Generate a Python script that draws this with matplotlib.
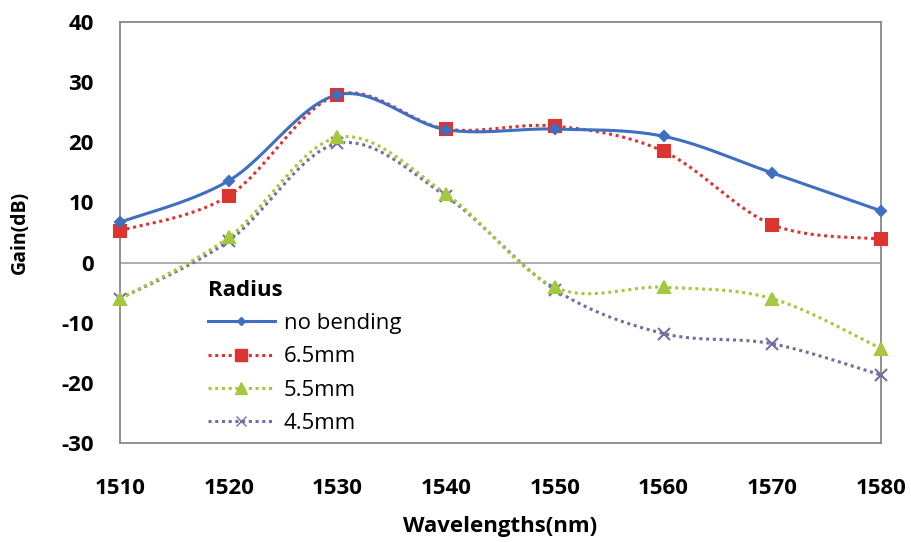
import numpy as np
import matplotlib
matplotlib.use("Agg")
import matplotlib.pyplot as plt
from matplotlib.lines import Line2D

plt.rcParams['font.family'] = ['Open Sans', 'DejaVu Sans']
plt.rcParams['axes.unicode_minus'] = False

wavelengths = [1510, 1520, 1530, 1540, 1550, 1560, 1570, 1580]
no_bending = [6.7, 13.6, 27.9, 22.1, 22.2, 21.0, 14.9, 8.6]
r_6_5mm = [5.3, 11.1, 27.9, 22.2, 22.7, 18.5, 6.3, 3.9]
r_5_5mm = [-6.0, 4.2, 20.8, 11.4, -4.1, -4.1, -6.0, -14.3]
r_4_5mm = [-6.0, 3.6, 19.8, 11.0, -4.5, -11.8, -13.5, -18.7]
labels = ["no bending", "6.5mm", "5.5mm", "4.5mm"]


def smooth(x, y, n=30):
    # excel-like bezier smoothing through the points
    x = np.asarray(x, float)
    y = np.asarray(y, float)
    px = np.concatenate([[x[0]], x, [x[-1]]])
    py = np.concatenate([[y[0]], y, [y[-1]]])
    xs, ys = [], []
    t = np.linspace(0, 1, n)
    for i in range(1, len(x)):
        p0 = np.array([px[i], py[i]])
        p3 = np.array([px[i + 1], py[i + 1]])
        c1 = p0 + (p3 - np.array([px[i - 1], py[i - 1]])) / 6
        c2 = p3 - (np.array([px[i + 2], py[i + 2]]) - p0) / 6
        pts = ((1 - t) ** 3)[:, None] * p0 + (3 * (1 - t) ** 2 * t)[:, None] * c1 \
            + (3 * (1 - t) * t ** 2)[:, None] * c2 + (t ** 3)[:, None] * p3
        xs.extend(pts[:, 0])
        ys.extend(pts[:, 1])
    return xs, ys


fig = plt.figure(figsize=(9.12, 5.42), dpi=100)
ax = fig.add_axes([120 / 912, 1 - 443 / 542, 761 / 912, 421 / 542])

styles = [
    dict(color="#3E6FC0", ls="-", lw=2.2, marker="D", ms=5),
    dict(color="#DC3430", ls=(0, (1, 1.2)), lw=2.2, marker="s", ms=9),
    dict(color="#A6C840", ls=(0, (1, 1.2)), lw=2.2, marker="^", ms=9),
    dict(color="#7070A0", ls=(0, (1, 1.2)), lw=2.2, marker="x", ms=8),
]
series = [no_bending, r_6_5mm, r_5_5mm, r_4_5mm]

handles = []
for vals, st in zip(series[::-1], styles[::-1]):
    sx, sy = smooth(wavelengths, vals)
    ax.plot(sx, sy, color=st["color"], ls=st["ls"], lw=st["lw"], zorder=2)
    ax.plot(wavelengths, vals, ls="none", marker=st["marker"], ms=st["ms"],
            color=st["color"], mew=1.5, zorder=3, clip_on=False)
for st, lab in zip(styles, labels):
    handles.append(Line2D([], [], color=st["color"], ls=st["ls"], lw=st["lw"],
                          marker=st["marker"], ms=st["ms"] * 0.9, label=lab))

ax.axhline(0, color="#A0A0A0", lw=1.2, zorder=1)
ax.set_xlim(1510, 1580)
ax.set_ylim(-30, 40)
ax.set_xticks(wavelengths)
ax.set_yticks(range(-30, 41, 10))
for s in ax.spines.values():
    s.set_color("#888888")
    s.set_linewidth(1.3)
ax.tick_params(length=0, labelsize=16)
ax.tick_params(axis="x", pad=25)
ax.tick_params(axis="y", pad=19)
for t in ax.get_xticklabels() + ax.get_yticklabels():
    t.set_fontweight("bold")
ax.set_xlabel("Wavelengths(nm)", fontsize=16, fontweight="bold")
ax.set_ylabel("Gain(dB)", fontsize=14, fontweight="bold")
ax.xaxis.set_label_coords(0.5, (443 - 516) / 421)
ax.yaxis.set_label_coords((30 - 120) / 761, 0.5)

leg = ax.legend(handles=handles, title="Radius", loc="upper left",
                bbox_to_anchor=(188 / 912, 1 - 260 / 542), bbox_transform=fig.transFigure,
                frameon=False, fontsize=16, title_fontproperties={"weight": "bold", "size": 16},
                handlelength=3.0, labelspacing=0.55, handletextpad=0.4, alignment="left")

fig.savefig("out.png", dpi=100)
